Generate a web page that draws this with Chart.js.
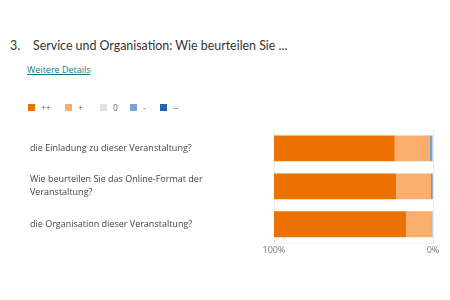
<!DOCTYPE html>
<html>
<head>
<meta charset="utf-8">
<script src="https://cdn.jsdelivr.net/npm/chart.js@4"></script>
<style>
  body { margin: 0; width: 450px; height: 300px; background: #fff; font-family: "Open Sans", sans-serif; position: relative; overflow: hidden; }
  #title { position: absolute; left: 10px; top: 38px; font-family: Lato, sans-serif; font-size: 12.4px; color: #333; white-space: nowrap; }
  #title .num { display: inline-block; width: 23px; }
  #details { position: absolute; left: 27px; top: 63px; font-size: 9px; color: #137a8c; text-decoration: underline; }
  #legend { position: absolute; left: 28px; top: 102px; display: flex; font-size: 8.5px; color: #666; }
  #legend .item { display: flex; align-items: center; }
  #legend .box { width: 7px; height: 7px; margin-right: 6px; }
  #wrap { position: absolute; left: 0; top: 120px; width: 450px; height: 140px; }
</style>
</head>
<body>
<div id="title"><span class="num">3.</span>Service und Organisation: Wie beurteilen Sie ...</div>
<div id="details">Weitere Details</div>
<div id="legend"></div>
<div id="wrap"><canvas id="myChart"></canvas></div>
<script>
const categories = [
  "die Einladung zu dieser Veranstaltung?",
  ["Wie beurteilen Sie das Online-Format der", "Veranstaltung?"],
  "die Organisation dieser Veranstaltung?",
];
const seriesNames = ["++", "+", "0", "-", "--"];
const seriesColors = ["#eb7100", "#faae6c", "#e3e3e3", "#76a5d3", "#2166ac"];
const plusPlus = [76, 77, 83];
const plus = [22, 22, 16];
const zero = [0, 0, 0];
const minus = [2, 0, 1];
const minusMinus = [0, 1, 0];
const xTicks = [0, 100];

const seriesValues = [plusPlus, plus, zero, minus, minusMinus];
const itemWidths = [37, 35, 30, 30, 30];

// html legend, same order as the original
const legend = document.getElementById("legend");
seriesNames.forEach((name, i) => {
  const item = document.createElement("div");
  item.className = "item";
  item.style.width = itemWidths[i] + "px";
  item.innerHTML = `<span class="box" style="background:${seriesColors[i]}"></span><span>${name}</span>`;
  legend.appendChild(item);
});

// stacking starts at 0% (right side), so "--" goes first
const datasets = seriesNames
  .map((name, i) => ({
    label: name,
    data: seriesValues[i],
    backgroundColor: seriesColors[i],
    borderWidth: 0,
    barPercentage: 0.68,
    categoryPercentage: 1,
  }))
  .reverse();

const ctx = document.getElementById("myChart").getContext("2d");
const chart = new Chart(ctx, {
  type: "bar",
  data: { labels: categories, datasets: datasets },
  options: {
    indexAxis: "y",
    responsive: true,
    maintainAspectRatio: false,
    animation: false,
    layout: { padding: { left: 30, right: 17, top: 9, bottom: 2 } },
    plugins: {
      legend: { display: false },
      tooltip: { enabled: false },
    },
    scales: {
      x: {
        stacked: true,
        reverse: true,
        min: 0,
        max: 100,
        afterBuildTicks: (scale) => {
          scale.ticks = xTicks.map((v) => ({ value: v }));
        },
        ticks: {
          callback: (v) => v + "%",
          color: "#777",
          font: { family: "Open Sans", size: 9 },
          padding: 2,
          maxRotation: 0,
        },
        grid: { color: "#ececec", drawTicks: false },
        border: { display: true, color: "#f2f2f2" },
      },
      y: {
        stacked: true,
        afterFit: (scale) => {
          scale.width = 244;
        },
        ticks: {
          crossAlign: "far",
          color: "#444",
          font: { family: "Open Sans", size: 9, lineHeight: 1.45 },
        },
        grid: { display: false },
        border: { display: false },
      },
    },
  },
});
</script>
</body>
</html>
